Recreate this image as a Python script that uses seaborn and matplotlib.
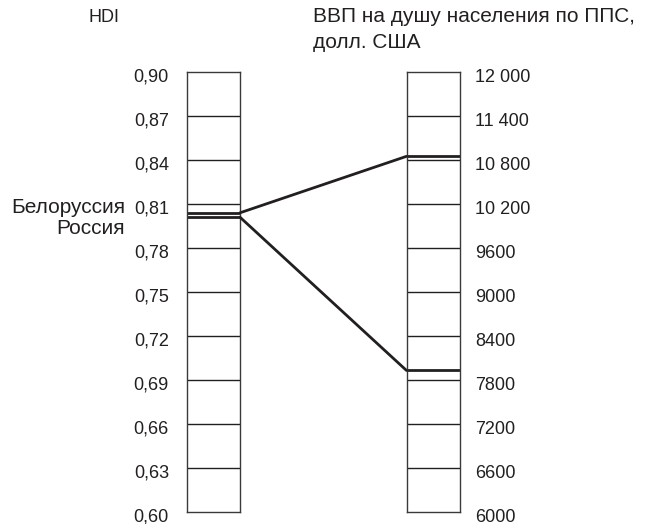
import matplotlib
matplotlib.use("Agg")
import matplotlib.pyplot as plt
import seaborn as sns
from matplotlib.patches import ConnectionPatch
from matplotlib.transforms import ScaledTranslation

# values
countries = ["Белоруссия", "Россия"]
hdi = [0.804, 0.801]
gdp = [10850, 7930]

hdi_ticks = [0.60, 0.63, 0.66, 0.69, 0.72, 0.75, 0.78, 0.81, 0.84, 0.87, 0.90]
hdi_labels = ["0,60", "0,63", "0,66", "0,69", "0,72", "0,75", "0,78", "0,81", "0,84", "0,87", "0,90"]
gdp_ticks = [6000, 6600, 7200, 7800, 8400, 9000, 9600, 10200, 10800, 11400, 12000]
gdp_labels = ["6000", "6600", "7200", "7800", "8400", "9000", "9600", "10 200", "10 800", "11 400", "12 000"]

sns.set_style("white")
plt.rcParams['font.family'] = ['Liberation Sans', 'DejaVu Sans']
ink = "#231f20"
num_size = 13
cyr_size = 15

W, H = 667, 524
fig = plt.figure(figsize=(W / 100, H / 100), dpi=100)

# the two scale columns
ax1 = fig.add_axes([187 / W, 12 / H, 53 / W, 440 / H])
ax2 = fig.add_axes([406.5 / W, 12 / H, 53 / W, 440 / H])

shift = ScaledTranslation(0, -3 / 100, fig.dpi_scale_trans)
for ax, ticks, labels, lim, pad in [(ax1, hdi_ticks, hdi_labels, (0.60, 0.90), 13),
                                     (ax2, gdp_ticks, gdp_labels, (6000, 12000), 11)]:
    ax.set_xlim(0, 1)
    ax.set_ylim(*lim)
    ax.set_xticks([])
    ax.set_yticks(ticks)
    ax.set_yticklabels(labels)
    ax.tick_params(axis="y", length=0, pad=pad, labelsize=num_size, labelcolor=ink)
    for t in ticks[1:-1]:
        ax.axhline(t, color=ink, lw=1)
    for sp in ax.spines.values():
        sp.set_color("#3a3a3a")
        sp.set_linewidth(1)
    ax.set_facecolor("white")

ax2.yaxis.tick_right()
for ax in (ax1, ax2):
    for lbl in ax.get_yticklabels():
        lbl.set_transform(lbl.get_transform() + shift)

# country marks in each column and the connecting lines
for name, h, g in zip(countries, hdi, gdp):
    ax1.axhline(h, color=ink, lw=2)
    ax2.axhline(g, color=ink, lw=2)
    con = ConnectionPatch(xyA=(1, h), coordsA=ax1.transData,
                          xyB=(0, g), coordsB=ax2.transData,
                          color=ink, lw=2)
    fig.add_artist(con)

ax1.annotate(countries[0], xy=(0, 0.8075), xycoords=("axes fraction", "data"),
             xytext=(-44.5, 0), textcoords="offset points",
             ha="right", va="center", fontsize=cyr_size, color=ink)
ax1.annotate(countries[1], xy=(0, 0.7935), xycoords=("axes fraction", "data"),
             xytext=(-44.5, 0), textcoords="offset points",
             ha="right", va="center", fontsize=cyr_size, color=ink)

fig.text(88 / W, 1 - 17 / H, "HDI", ha="left", va="center", fontsize=num_size, color=ink)
fig.text(313 / W, 1 - 17 / H, "ВВП на душу населения по ППС,", ha="left", va="center",
         fontsize=cyr_size, color=ink)
fig.text(313 / W, 1 - 42 / H, "долл. США", ha="left", va="center", fontsize=cyr_size, color=ink)

fig.savefig("out.png", dpi=100)
